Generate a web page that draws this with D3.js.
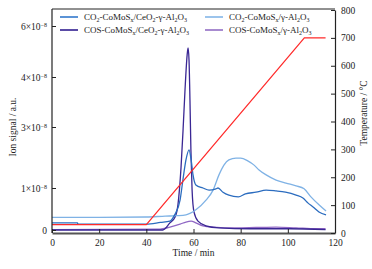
<!DOCTYPE html>
<html>
<head>
<meta charset="UTF-8">
<script src="https://d3js.org/d3.v7.min.js"></script>
<style>
  body { margin: 0; background: #fff; }
  svg { font-family: "Liberation Serif", "DejaVu Serif", serif; }
</style>
</head>
<body>
<svg width="372" height="269"></svg>
<script>
// ion signal in units of 1e-8 (axis labels are as printed), time in min
const tCo2Ce = [0, 10.8, 11, 40, 46, 50, 52, 54.3, 55.5, 56.8, 58.1, 59, 59.8, 61, 64, 66.6, 69.5, 70.4, 72.5, 75, 79, 82, 86.5, 90.8, 95, 99, 103.5, 106.4, 108.6, 110.7, 113.2, 116.2];
const vCo2Ce = [0.17, 0.17, 0.14, 0.14, 0.18, 0.21, 0.36, 0.71, 1.26, 1.92, 2.25, 1.92, 1.43, 1.1, 1.0, 0.95, 0.98, 1.0, 0.9, 0.83, 0.79, 0.86, 0.9, 0.95, 0.93, 0.9, 0.83, 0.76, 0.64, 0.55, 0.43, 0.36];

const tCo2Al = [0, 20, 40, 48, 53, 56.8, 61, 65.3, 68.3, 70.8, 72.9, 75, 78, 80, 83, 85.7, 87.8, 90.8, 95, 99.2, 103.5, 106.9, 109.8, 113.2, 116.2];
const vCo2Al = [0.3, 0.3, 0.31, 0.33, 0.34, 0.36, 0.48, 0.71, 0.95, 1.43, 1.75, 1.92, 1.98, 1.98, 1.89, 1.75, 1.59, 1.43, 1.26, 1.16, 1.07, 0.98, 0.79, 0.6, 0.45];

const tCosCe = [0, 47, 50, 52.2, 53.4, 54.7, 55.6, 56.4, 57.3, 57.7, 58.1, 58.5, 58.9, 59.4, 60.2, 61.9, 65.3, 70.8, 84, 101, 116];
const vCosCe = [0.0, 0.0, 0.17, 0.31, 0.6, 1.66, 2.94, 3.74, 4.86, 5.14, 4.67, 3.54, 2.25, 0.95, 0.43, 0.21, 0.1, 0.05, 0.03, 0.03, 0.01];

const tCosAl = [0, 45.8, 50, 54.3, 56.8, 59, 61, 64, 68.3, 78, 86.5, 95, 103.5, 112, 116];
const vCosAl = [0.01, 0.02, 0.07, 0.14, 0.19, 0.21, 0.17, 0.1, 0.07, 0.05, 0.06, 0.07, 0.05, 0.03, 0.03];

const tTemp = [0, 40, 107, 116];
const vTemp = [30, 30, 700, 700];

const xTicks = [0, 20, 40, 60, 80, 100, 120];
const yTicks = [0, 1, 3, 4, 6];           // printed mantissas
const yTickLabels = ["0", "1×10", "3×10", "4×10", "6×10"];
const tempTicks = [0, 100, 200, 300, 400, 500, 600, 700, 800];

const series = [
  { name: [["CO", 0], ["2", 1], ["-CoMoS", 0], ["x", 1], ["/CeO", 0], ["2", 1], ["-γ-Al", 0], ["2", 1], ["O", 0], ["3", 1]], t: tCo2Ce, v: vCo2Ce, color: "#2b6cbf", leg: "#5b93d6" },
  { name: [["CO", 0], ["2", 1], ["-CoMoS", 0], ["x", 1], ["/γ-Al", 0], ["2", 1], ["O", 0], ["3", 1]], t: tCo2Al, v: vCo2Al, color: "#7fb2e5", leg: "#9cc4ec" },
  { name: [["COS-CoMoS", 0], ["x", 1], ["/CeO", 0], ["2", 1], ["-γ-Al", 0], ["2", 1], ["O", 0], ["3", 1]], t: tCosCe, v: vCosCe, color: "#3a2794", leg: "#5a4ba6" },
  { name: [["COS-CoMoS", 0], ["x", 1], ["/γ-Al", 0], ["2", 1], ["O", 0], ["3", 1]], t: tCosAl, v: vCosAl, color: "#8f66c4", leg: "#a88bd0" }
];

const svg = d3.select("svg");
const L = 52, R = 335, T = 9, B = 233;

const x = d3.scaleLinear().domain([0, 120]).range([L, R]);
// the printed left axis is not evenly spaced, so a piecewise scale follows it
const y = d3.scaleLinear().domain(yTicks).range([230, 188, 127, 77, 26]);
const yT = d3.scaleLinear().domain([0, 800]).range([B, T + 1]);

// frame
svg.append("line").attr("x1", L).attr("x2", R).attr("y1", T).attr("y2", T).attr("stroke", "#222").attr("stroke-width", 1);

// curves
const clip = svg.append("clipPath").attr("id", "c").append("rect")
  .attr("x", L).attr("y", T).attr("width", R - L).attr("height", B - T);

series.slice().reverse().forEach(s => {
  const line = d3.line().x((d, i) => x(s.t[i])).y(d => y(d)).curve(d3.curveMonotoneX);
  svg.append("path").attr("d", line(s.v)).attr("fill", "none")
    .attr("stroke", s.color).attr("stroke-width", 1.3).attr("clip-path", "url(#c)");
});

const tempLine = d3.line().x((d, i) => x(tTemp[i])).y(d => yT(d));
svg.append("path").attr("d", tempLine(vTemp)).attr("fill", "none")
  .attr("stroke", "#ff2a2a").attr("stroke-width", 1.2);

// x axis
const gx = svg.append("g").attr("transform", `translate(0,${B})`)
  .call(d3.axisBottom(x).tickValues(xTicks).tickSizeInner(-4).tickSizeOuter(0).tickPadding(6));
gx.select(".domain").attr("stroke", "#555").attr("stroke-width", 2.2);

// left axis
const gy = svg.append("g").attr("transform", `translate(${L},0)`)
  .call(d3.axisLeft(y).tickValues(yTicks).tickSizeInner(-4).tickSizeOuter(0).tickPadding(4).tickFormat(""));
gy.select(".domain").attr("d", `M0,${T}V${B}`).attr("stroke", "#222").attr("stroke-width", 1.2);
gy.selectAll(".tick text").each(function(d, i) {
  const tx = d3.select(this).text(yTickLabels[i]).attr("x", -5);
  if (i > 0) {
    tx.append("tspan").attr("dy", -3).attr("font-size", 6).text("−8");
  }
});

// right axis
const gr = svg.append("g").attr("transform", `translate(${R},0)`)
  .call(d3.axisRight(yT).tickValues(tempTicks).tickSizeInner(-4).tickSizeOuter(0).tickPadding(6));
gr.select(".domain").attr("stroke", "#222").attr("stroke-width", 1.2);

svg.selectAll(".tick text").attr("font-family", "Liberation Serif").attr("font-size", 9.5).attr("fill", "#222");
svg.selectAll(".tick line").attr("stroke", "#222");

// axis titles
svg.append("text").attr("x", (L + R) / 2).attr("y", 256).attr("text-anchor", "middle")
  .attr("font-size", 9.5).attr("fill", "#222").text("Time / min");
svg.append("text").attr("transform", "translate(16,127) rotate(-90)").attr("text-anchor", "middle")
  .attr("font-size", 9.5).attr("fill", "#222").text("Ion signal / a.u.");
svg.append("text").attr("transform", "translate(367,113) rotate(-90)").attr("text-anchor", "middle")
  .attr("font-size", 9.5).attr("fill", "#222").text("Temperature / °C");

// legend
const legPos = [[60, 17], [205, 17], [60, 30], [205, 30]];
series.forEach((s, i) => {
  const [lx, ly] = legPos[i];
  svg.append("line").attr("x1", lx).attr("x2", lx + 18).attr("y1", ly).attr("y2", ly)
    .attr("stroke", s.leg).attr("stroke-width", 2);
  const tx = svg.append("text").attr("x", lx + 24).attr("y", ly + 3)
    .attr("font-size", 9).attr("fill", "#222");
  let sub = false;
  s.name.forEach(([str, isSub]) => {
    const dy = isSub && !sub ? 2 : (!isSub && sub ? -2 : 0);
    tx.append("tspan").attr("dy", dy).attr("font-size", isSub ? 6 : 9).text(str);
    sub = !!isSub;
  });
});
</script>
</body>
</html>
